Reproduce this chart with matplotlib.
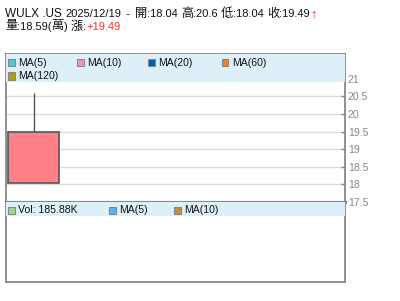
import matplotlib
matplotlib.use("Agg")
import matplotlib.pyplot as plt
from matplotlib.patches import Rectangle

plt.rcParams['font.family'] = ['Liberation Sans', 'Noto Sans CJK TC', 'DejaVu Sans']

# ---- data ----
symbol = "WULX .US"
dates = ["2025/12/19"]
opens = [18.04]
highs = [20.6]
lows = [18.04]
closes = [19.49]
volume_wan = [18.59]
change = [19.49]
vol_label = "185.88K"
ma_labels = ["MA(5)", "MA(10)", "MA(20)", "MA(60)", "MA(120)"]
ma_colors = ["#40D0D0", "#F890B8", "#0060B0", "#F08020", "#B0A000"]
vol_legend_labels = ["Vol: " + vol_label, "MA(5)", "MA(10)"]
vol_legend_colors = ["#A0D890", "#50B8F0", "#C09040"]
yticks = [17.5, 18, 18.5, 19, 19.5, 20, 20.5, 21]
ytick_labels = ["17.5", "18", "18.5", "19", "19.5", "20", "20.5", "21"]

W, H = 400, 301
fig = plt.figure(figsize=(W / 100, H / 100), dpi=100)

def fx(px):
    return px / W

def fy(py):
    return 1 - py / H

border = "#888888"
band = "#DDEFF9"
LEG_FS = 7.6

# main axes
L, R = 6, 345
T1, B1 = 54, 202
ax = fig.add_axes([fx(L), fy(B1), fx(R - L), (B1 - T1) / H])
ax.set_xlim(-0.5, 5.66)
ax.set_ylim(17.5, 21.7)
for s in ax.spines.values():
    s.set_color(border)
    s.set_linewidth(1.3)
ax.spines['bottom'].set_linewidth(2.2)
ax.set_xticks([])
ax.yaxis.tick_right()
ax.set_yticks(yticks)
ax.set_yticklabels(ytick_labels)
ax.tick_params(axis='y', direction='in', length=3, width=1, color=border,
               labelcolor="#888888", labelsize=7.6, pad=2)
for y in yticks[1:-1]:
    ax.axhline(y, color="#DDDDDD", lw=1, zorder=0)

# candle
for i, (o, h, l, c) in enumerate(zip(opens, highs, lows, closes)):
    up = c >= o
    col = "#FF8088" if up else "#40C040"
    ax.vlines(i, max(o, c), h, color="#555555", lw=1, zorder=2)
    ax.vlines(i, l, min(o, c), color="#555555", lw=1, zorder=2)
    ax.add_patch(Rectangle((i - 0.465, min(o, c)), 0.93, abs(c - o),
                           facecolor=col, edgecolor="#555555", lw=1.2, zorder=3))

# legend band (main)
ax.add_patch(Rectangle((0, 1 - 28 / 148), 1, 28 / 148, transform=ax.transAxes,
                       facecolor=band, edgecolor='none', zorder=4))
leg_pos = [(11, 63), (80, 63), (151, 63), (225, 63), (11, 76)]
for (px, py), lab, colr in zip(leg_pos, ma_labels, ma_colors):
    fig.patches.append(Rectangle((fx(px - 3.5), fy(py + 3.5)), 7 / W, 7 / H,
                                 transform=fig.transFigure, facecolor=colr,
                                 edgecolor="#888888", lw=0.8, zorder=10))
    fig.text(fx(px + 7), fy(py), lab, fontsize=LEG_FS, va='center', ha='left', color="#111111")

# volume axes
T2, B2 = 202, 282
vax = fig.add_axes([fx(L), fy(B2), fx(R - L), (B2 - T2) / H])
vax.set_xlim(-0.5, 5.66)
vax.set_ylim(0, 1)
vax.set_xticks([])
vax.set_yticks([])
for s in vax.spines.values():
    s.set_color(border)
    s.set_linewidth(1.3)
vax.spines['top'].set_linewidth(2.2)
vax.add_patch(Rectangle((0, 1 - 14 / 80), 1, 14 / 80, transform=vax.transAxes,
                        facecolor=band, edgecolor='none', zorder=4))
vleg_pos = [(11, 210), (112, 210), (177, 210)]
for (px, py), lab, colr in zip(vleg_pos, vol_legend_labels, vol_legend_colors):
    fig.patches.append(Rectangle((fx(px - 3.5), fy(py + 3.5)), 7 / W, 7 / H,
                                 transform=fig.transFigure, facecolor=colr,
                                 edgecolor="#888888", lw=0.8, zorder=10))
    fig.text(fx(px + 7), fy(py), lab, fontsize=LEG_FS, va='center', ha='left', color="#111111")

# header texts drawn sequentially
renderer = fig.canvas.get_renderer()

def is_cjk(ch):
    return ord(ch) > 0x2E80

def runs(s, colr, lat=8.0, cjk=8.8):
    out = []
    cur = ""
    cur_c = None
    for ch in s:
        c = is_cjk(ch)
        if cur and c != cur_c:
            out.append((cur, cjk if cur_c else lat, colr, 'normal', 0))
            cur = ""
        cur += ch
        cur_c = c
    if cur:
        out.append((cur, cjk if cur_c else lat, colr, 'normal', 0))
    return out

def seq(pieces, x0, ybase):
    x = x0
    for txt, size, colr, wt, gap in pieces:
        x += gap
        t = fig.text(fx(x), fy(ybase), txt, fontsize=size, color=colr,
                     va='baseline', ha='left', fontweight=wt)
        bb = t.get_window_extent(renderer=renderer)
        x += bb.width

line1 = [(symbol + " ", 8.5, "#111111", 'normal', 0),
         (dates[0], 8.0, "#111111", 'normal', 0),
         (" - ", 8.0, "#111111", 'normal', 2)]
line1 += runs("開:%.2f 高:%s 低:%.2f 收:%.2f" % (
    opens[0], f"{highs[0]:g}", lows[0], closes[0]), "#111111")
line1[3] = line1[3][:4] + (2,)
line1 += [("↑", 9, "#EE1111", 'bold', 0)]
line2 = runs("量:%.2f(萬) 漲:" % volume_wan[0], "#111111")
line2 += runs("+%.2f" % change[0], "#EE3333")
seq(line1, 5, 17)
seq(line2, 5, 29.5)

fig.savefig("out.png", dpi=100)
